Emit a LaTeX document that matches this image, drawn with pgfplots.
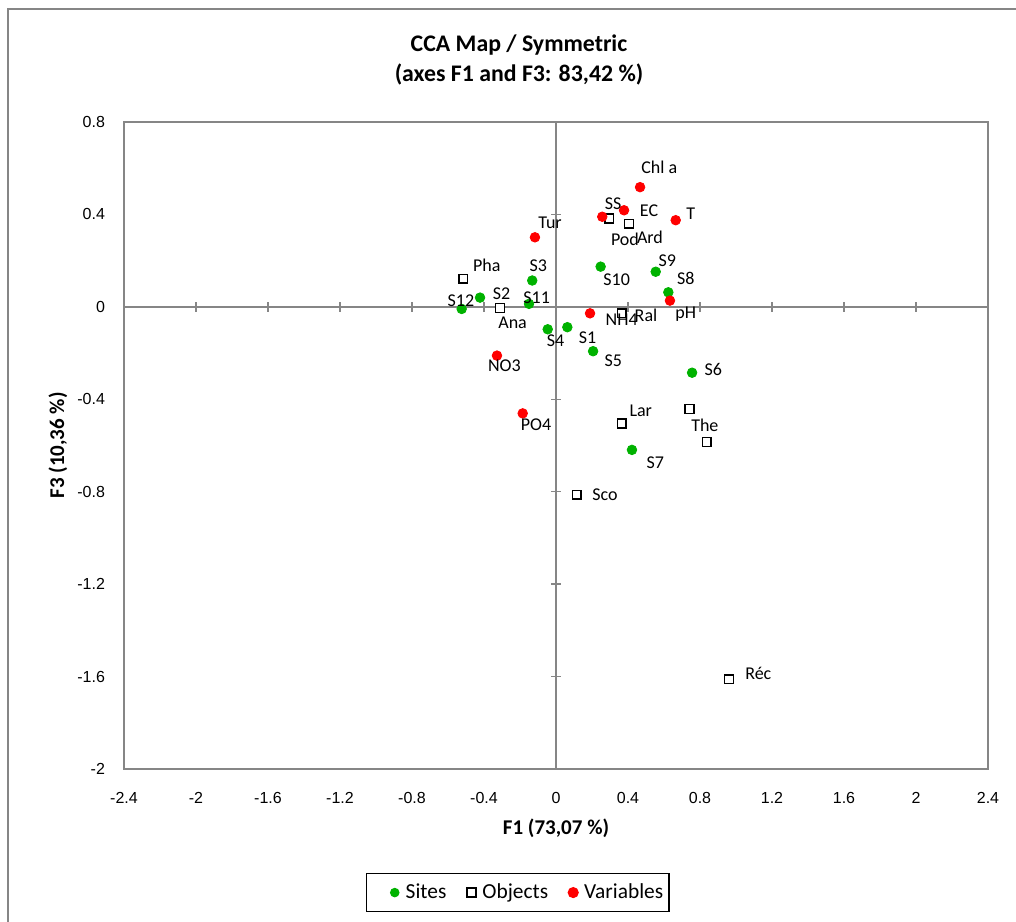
\documentclass[border=0pt]{standalone}
\usepackage{fontspec}
\setmainfont{Carlito}
\newfontfamily\arialfont{Liberation Sans}
\usepackage{pgfplots}
\usepackage{pgfplotstable}
\pgfplotsset{compat=1.18}

\definecolor{axgray}{RGB}{134,134,134}
\definecolor{sitegreen}{RGB}{0,178,0}
\definecolor{varred}{RGB}{255,0,0}

\pgfplotstableread{
x y
-0.524 -0.009
-0.422 0.040
-0.150 0.013
-0.132 0.114
0.248 0.174
0.554 0.152
0.624 0.063
-0.046 -0.097
0.063 -0.088
0.206 -0.192
0.756 -0.285
0.422 -0.619
}\sites

\pgfplotstableread{
x y
-0.515 0.122
-0.311 -0.005
0.296 0.383
0.406 0.360
0.365 -0.028
0.365 -0.505
0.741 -0.442
0.837 -0.585
0.115 -0.813
0.961 -1.612
}\objects

\pgfplotstableread{
x y
0.467 0.518
0.257 0.390
0.378 0.418
0.665 0.375
-0.117 0.301
0.189 -0.028
0.633 0.027
-0.328 -0.211
-0.185 -0.461
}\variables

\pgfplotstableread[col sep=comma]{
x,y,t
0.574,0.604,Chl a
0.318,0.448,SS
0.517,0.416,EC
0.748,0.402,T
-0.033,0.362,Tur
0.383,0.294,Pod
0.522,0.299,Ard
-0.385,0.178,Pha
-0.098,0.178,S3
0.337,0.116,S10
0.619,0.198,S9
0.721,0.124,S8
-0.528,0.027,S12
-0.302,0.056,S2
-0.107,0.041,S11
-0.241,-0.068,Ana
0.365,-0.057,NH4
0.500,-0.038,Ral
0.721,-0.030,pH
-0.002,-0.146,S4
0.176,-0.133,S1
-0.287,-0.255,NO3
0.319,-0.233,S5
0.874,-0.273,S6
0.471,-0.450,Lar
-0.111,-0.511,PO4
0.827,-0.514,The
0.552,-0.674,S7
0.272,-0.815,Sco
1.124,-1.586,Réc
}\labels

\begin{document}
\begin{tikzpicture}
% zero lines with their tick marks
\begin{axis}[
    scale only axis, width=432pt, height=323.5pt,
    xmin=-2.4, xmax=2.4, ymin=-2, ymax=0.8,
    axis lines=middle,
    axis line style={axgray, line width=0.75pt, -},
    xtick={-2.4,-2,-1.6,-1.2,-0.8,-0.4,0,0.4,0.8,1.2,1.6,2,2.4},
    ytick={-2,-1.6,-1.2,-0.8,-0.4,0,0.4,0.8},
    xticklabels={}, yticklabels={},
    tick align=center, major tick length=5pt,
    tick style={axgray, line width=0.75pt},
]
\end{axis}
% frame, tick labels and data
\begin{axis}[
    scale only axis, width=432pt, height=323.5pt,
    xmin=-2.4, xmax=2.4, ymin=-2, ymax=0.8,
    axis line style={axgray, line width=0.75pt},
    xtick={-2.4,-2,-1.6,-1.2,-0.8,-0.4,0,0.4,0.8,1.2,1.6,2,2.4},
    ytick={-2,-1.6,-1.2,-0.8,-0.4,0,0.4,0.8},
    major tick length=0pt,
    /pgf/number format/assume math mode=true,
    /pgf/number format/fixed, /pgf/number format/precision=1,
    tick label style={font=\arialfont\fontsize{8}{10}\selectfont, black},
    xticklabel style={yshift=-7.5pt, text height=6pt, text depth=0pt},
    yticklabel style={xshift=-6pt},
    legend columns=3,
    legend style={at={(0.456,-0.191)}, anchor=center, draw=black,
        line width=0.75pt, font=\fontsize{10.7}{12}\selectfont,
        inner xsep=1pt, inner ysep=3pt,
        /tikz/every even column/.append style={column sep=7.5pt}},
    legend image code/.code={\draw[mark repeat=2,mark phase=2,#1]
        plot coordinates {(0pt,0pt)(3pt,0pt)(6pt,0pt)};
        \path[draw=none] (0pt,0pt) -- (6.5pt,0pt);},
]
\addplot[only marks, mark=*, mark size=2.4pt, sitegreen,
    legend image code/.code={\fill[sitegreen, draw=none] (3pt,0pt) circle (2.4pt);
        \path[draw=none] (-10pt,0pt) -- (6.5pt,0pt);}] table {\sites};
\addlegendentry{Sites}
\addplot[only marks, mark=square*, mark size=2.2pt, black, line width=0.75pt,
    mark options={fill=white}] table {\objects};
\addlegendentry{Objects}
\addplot[only marks, mark=*, mark size=2.4pt, varred] table {\variables};
\addlegendentry{Variables}
\addplot[forget plot, only marks, mark=none, nodes near coords,
    point meta=explicit symbolic,
    nodes near coords align={center},
    every node near coord/.append style={anchor=center, inner sep=0pt,
        font=\fontsize{9}{11}\selectfont, black}]
    table[x=x, y=y, meta=t] {\labels};
\end{axis}
\node[font=\bfseries\fontsize{11.9}{15}\selectfont, align=center]
    at (197.5pt,354.5pt) {CCA Map / Symmetric\\(axes F1 and F3: 83,42 \%)};
\node[font=\bfseries\fontsize{10.5}{12}\selectfont] at (216pt,-29.5pt) {F1 (73,07 \%)};
\node[font=\bfseries\fontsize{10.5}{12}\selectfont, rotate=90] at (-33pt,161.75pt) {F3 (10,36 \%)};
\draw[axgray, line width=0.75pt] (-58pt,-90pt) rectangle (460pt,380pt);
\pgfresetboundingbox
\useasboundingbox (-62pt,-76pt) rectangle (446pt,384.5pt);
\end{tikzpicture}
\end{document}
